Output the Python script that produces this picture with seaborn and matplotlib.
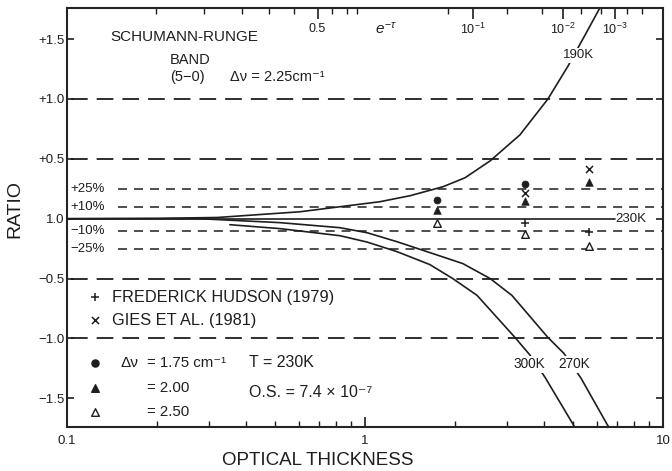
import matplotlib
matplotlib.use('Agg')
import matplotlib.pyplot as plt
import numpy as np
import pandas as pd
import seaborn as sns
from matplotlib.ticker import NullFormatter

# optical thickness (tau) vs ratio, plotted as offset from 1.0
tau_190 = [0.10, 0.20, 0.319, 0.605, 0.824, 1.123, 1.416, 1.827, 2.166, 2.63, 3.31, 4.11, 4.80, 5.69, 6.39]
r_190 = [0.0, 0.003, 0.01, 0.058, 0.10, 0.142, 0.192, 0.267, 0.342, 0.483, 0.70, 1.0, 1.275, 1.61, 1.84]

tau_270 = [0.10, 0.279, 0.519, 0.824, 1.016, 1.28, 1.65, 2.13, 2.63, 3.11, 4.11, 4.65, 5.31, 6.49, 6.90]
r_270 = [0.0, 0.0, -0.033, -0.075, -0.117, -0.192, -0.283, -0.375, -0.50, -0.64, -0.992, -1.125, -1.333, -1.717, -1.825]

tau_300 = [0.352, 0.519, 0.824, 1.016, 1.28, 1.65, 1.97, 2.376, 3.187, 3.58, 4.02, 4.99, 5.27]
r_300 = [-0.05, -0.083, -0.142, -0.195, -0.275, -0.383, -0.50, -0.64, -0.992, -1.14, -1.325, -1.717, -1.817]

tau_230 = [0.10, 6.9]
r_230 = [0.0, 0.0]

# measured points
tau_pts = [1.74, 1.74, 1.74, 3.44, 3.44, 3.44, 3.44, 3.44, 5.65, 5.65, 5.65, 5.65]
r_pts = [0.158, 0.075, -0.033, 0.29, 0.214, 0.144, -0.036, -0.125, 0.414, 0.31, -0.114, -0.23]
kind_pts = ['d175', 'd200', 'd250', 'd175', 'gies', 'd200', 'hudson', 'd250', 'gies', 'd200', 'hudson', 'd250']

# reference lines
major_levels = [1.0, 0.5, -0.5, -1.0]
pct_levels = [0.25, 0.10, -0.10, -0.25]
pct_labels = ['+25%', '+10%', '\u221210%', '\u221225%']

y_ticks = [1.5, 1.0, 0.5, 0.0, -0.5, -1.0, -1.5]
y_labels = ['+1.5', '+1.0', '+0.5', '1.0', '\u22120.5', '\u22121.0', '\u22121.5']
x_ticks = [0.1, 1, 10]
x_labels = ['0.1', '1', '10']

# top axis: transmission e^-tau
top_major = [0.5, 1e-1, 1e-2, 1e-3]
top_major_labels = ['0.5', r'$10^{-1}$', r'$10^{-2}$', r'$10^{-3}$']
top_minor = [0.82, 0.75, 0.68, 0.62, 0.56, 0.46, 0.42, 0.39, 0.15, 0.05, 0.02, 0.005, 0.002, 5e-4, 2e-4]

sns.set_theme(style='ticks')
plt.rcParams['font.family'] = ['Liberation Sans', 'DejaVu Sans']
plt.rcParams['lines.scale_dashes'] = False
plt.rcParams['mathtext.fontset'] = 'custom'
plt.rcParams['mathtext.rm'] = 'Liberation Sans'
plt.rcParams['mathtext.it'] = 'Liberation Sans:italic'

ink = '#1e1e1e'
fig = plt.figure(figsize=(6.72, 4.71), dpi=100)
ax = fig.add_axes([0.0997, 0.0934, 0.8869, 0.8896])

for lv in major_levels:
    ax.axhline(lv, color=ink, lw=1.3, ls=(0, (12, 6.5)), xmin=0.006)
for lv, lab in zip(pct_levels, pct_labels):
    ax.axhline(lv, color=ink, lw=1.1, ls=(0, (6.5, 5)), xmin=0.086)
    ax.text(0.006, lv, lab, transform=ax.get_yaxis_transform(), fontsize=9.5,
            color=ink, va='center', ha='left')

bbox = dict(facecolor='white', edgecolor='none', pad=1.0)
for t, r in [(tau_190, r_190), (tau_270, r_270), (tau_300, r_300), (tau_230, r_230)]:
    sns.lineplot(x=t, y=r, ax=ax, color=ink, lw=1.2, sort=False, estimator=None)

ax.text(6.9, 0.0, '230K', fontsize=9.5, color=ink, va='center', ha='left')
ax.text(5.19, 1.367, '190K', fontsize=9.5, color=ink, va='center', ha='center', bbox=bbox)
ax.text(3.56, -1.217, '300K', fontsize=9.8, color=ink, va='center', ha='center', bbox=bbox)
ax.text(5.02, -1.217, '270K', fontsize=9.8, color=ink, va='center', ha='center', bbox=bbox)

df = pd.DataFrame({'tau': tau_pts, 'r': r_pts, 'kind': kind_pts})
styles = {
    'd175': dict(marker='o', s=26, color=ink, edgecolor=ink),
    'd200': dict(marker='^', s=30, color=ink, edgecolor=ink),
    'd250': dict(marker='^', s=30, color='white', edgecolor=ink, linewidth=1.0),
    'hudson': dict(marker='+', s=40, color=ink, linewidth=1.1),
    'gies': dict(marker='x', s=26, color=ink, linewidth=1.1),
}
for k, st in styles.items():
    sub = df[df.kind == k]
    sns.scatterplot(data=sub, x='tau', y='r', ax=ax, zorder=5, **st)

# legend block drawn as text
leg_y = {'hudson': 0.310, 'gies': 0.255, 'd175': 0.153, 'd200': 0.093, 'd250': 0.036}
for k, yy in leg_y.items():
    ax.scatter([0.047], [yy], transform=ax.transAxes, zorder=5, **styles[k])
ax.text(0.076, 0.310, 'FREDERICK HUDSON (1979)', transform=ax.transAxes, fontsize=11.8, color=ink, va='center')
ax.text(0.076, 0.255, 'GIES ET AL. (1981)', transform=ax.transAxes, fontsize=11.8, color=ink, va='center')
ax.text(0.089, 0.153, '\u0394\u03bd', transform=ax.transAxes, fontsize=11, color=ink, va='center')
ax.text(0.134, 0.153, '= 1.75 cm\u207b\u00b9', transform=ax.transAxes, fontsize=10.8, color=ink, va='center')
ax.text(0.134, 0.093, '= 2.00', transform=ax.transAxes, fontsize=10.8, color=ink, va='center')
ax.text(0.134, 0.036, '= 2.50', transform=ax.transAxes, fontsize=10.8, color=ink, va='center')
ax.text(0.305, 0.153, 'T = 230K', transform=ax.transAxes, fontsize=11.5, color=ink, va='center')
ax.text(0.305, 0.083, 'O.S. = 7.4 \u00d7 10\u207b\u2077', transform=ax.transAxes, fontsize=11.5, color=ink, va='center')

ax.text(0.072, 0.931, 'SCHUMANN-RUNGE', transform=ax.transAxes, fontsize=11, color=ink, va='center')
ax.text(0.173, 0.876, 'BAND', transform=ax.transAxes, fontsize=10.5, color=ink, va='center')
ax.text(0.173, 0.835, '(5\u22120)', transform=ax.transAxes, fontsize=10.5, color=ink, va='center')
ax.text(0.273, 0.835, '\u0394\u03bd = 2.25cm\u207b\u00b9', transform=ax.transAxes, fontsize=10.5, color=ink, va='center')
ax.text(0.517, 0.952, r'$e^{-\tau}$', transform=ax.transAxes, fontsize=11, color=ink, va='center')

ax.set_xscale('log')
ax.set_xlim(0.1, 10)
ax.set_ylim(-1.74, 1.76)
ax.set_xticks(x_ticks)
ax.set_xticklabels(x_labels)
ax.xaxis.set_minor_formatter(NullFormatter())
ax.set_yticks(y_ticks)
ax.set_yticklabels(y_labels)
ax.tick_params(axis='both', which='major', direction='in', length=7, width=1.2,
               labelsize=9.5, colors=ink, right=True)
ax.tick_params(axis='x', which='minor', direction='in', length=4.5, width=1.0, colors=ink)
ax.tick_params(axis='y', which='major', length=5, pad=2)
ax.tick_params(axis='x', which='major', pad=6)
for sp in ax.spines.values():
    sp.set_linewidth(1.5)
    sp.set_color(ink)

ax.set_xlabel('OPTICAL THICKNESS', fontsize=13.5, color=ink)
ax.xaxis.set_label_coords(0.42, -0.06)
ax.set_ylabel('RATIO', fontsize=14, color=ink)
ax.yaxis.set_label_coords(-0.074, 0.52)

# top axis in transmission
ax2 = ax.twiny()
ax2.set_xscale('log')
ax2.set_xlim(ax.get_xlim())
ax2.set_xticks([-np.log(v) for v in top_major])
ax2.set_xticklabels([])
ax2.set_xticks([-np.log(v) for v in top_minor], minor=True)
ax2.xaxis.set_minor_formatter(NullFormatter())
ax2.tick_params(axis='x', which='major', direction='in', length=8, width=1.2, colors=ink)
ax2.tick_params(axis='x', which='minor', direction='in', length=4, width=1.0, colors=ink)
for v, lab in zip(top_major, top_major_labels):
    ax.text(-np.log(v), 0.95, lab, transform=ax.get_xaxis_transform(), fontsize=9,
            color=ink, ha='center', va='center')

fig.savefig('out.png', dpi=100, facecolor='white')
